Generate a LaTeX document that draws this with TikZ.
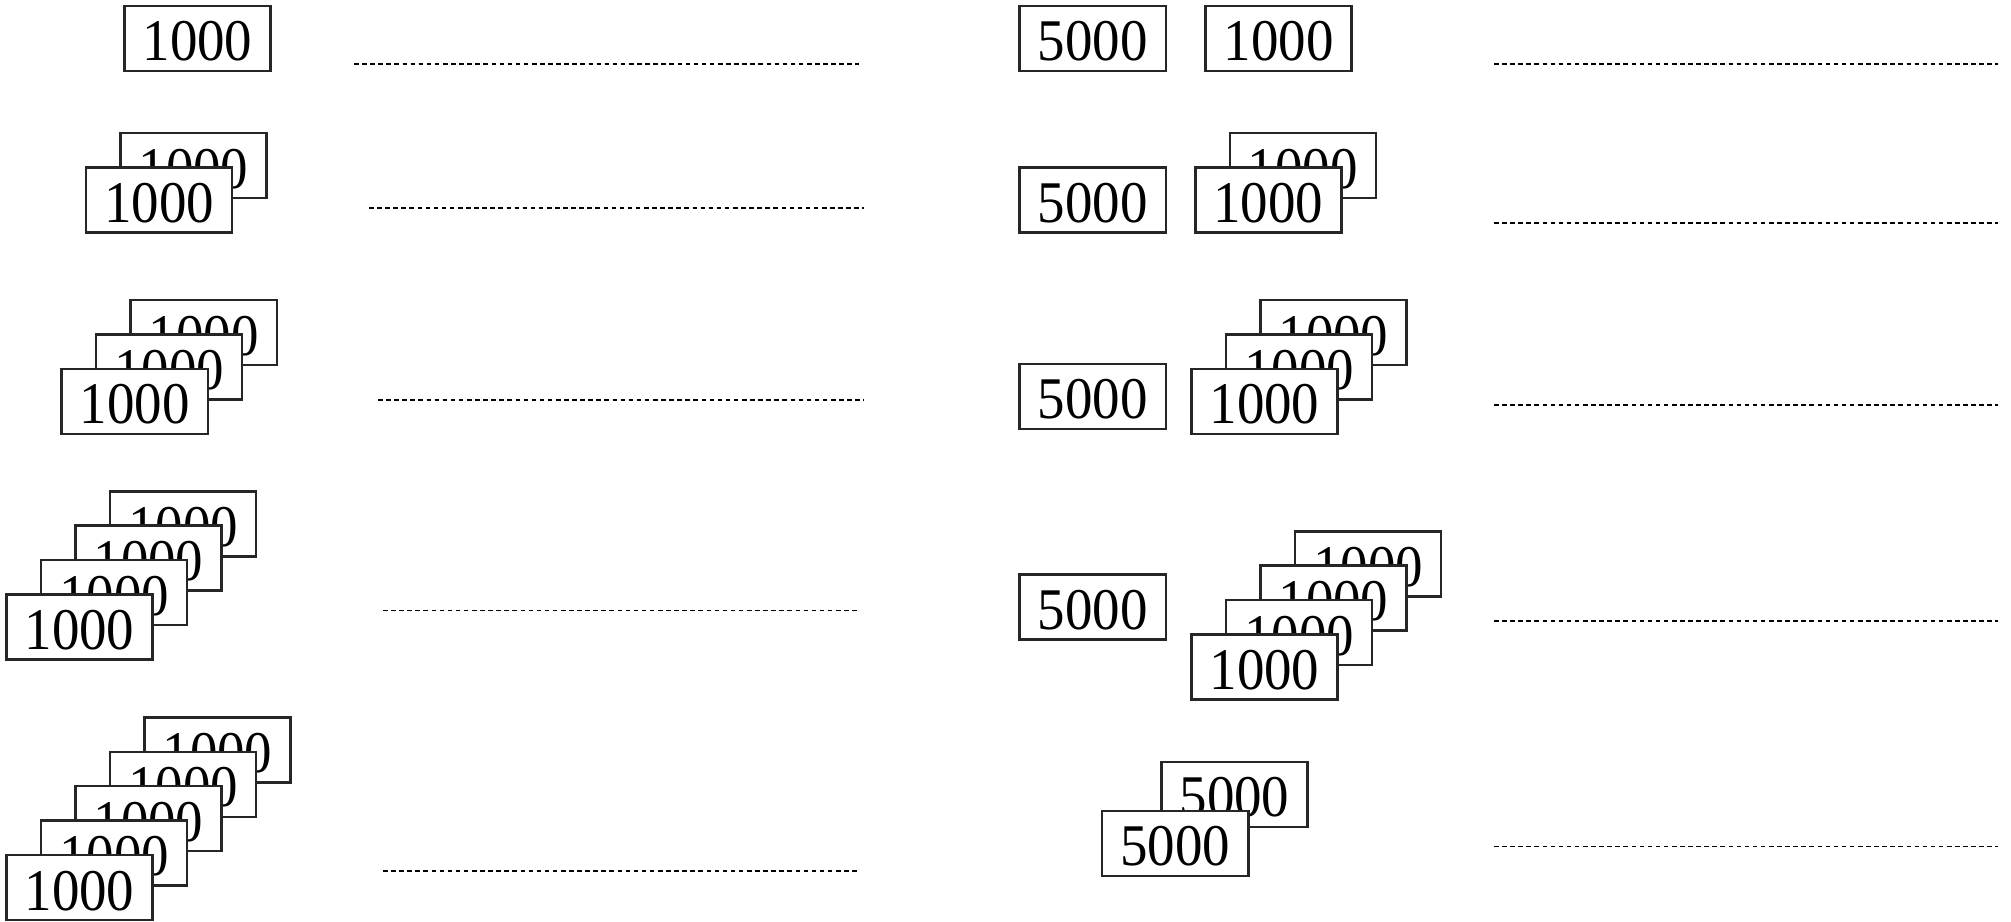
\documentclass[tikz,border=0pt]{standalone}
\usepackage{fontspec}
\setmainfont{Liberation Serif}[FakeStretch=0.93]
\usetikzlibrary{positioning}

\tikzset{
  bill/.style={draw=black!85,line width=0.7pt,fill=white,inner sep=0pt,
    minimum width=1.46cm,minimum height=0.65cm,text height=12.8pt,text depth=0pt,
    font=\fontsize{16.8}{18}\selectfont},
  blank/.style={black,line width=0.5pt,dash pattern=on 1.3pt off 1pt}
}

% a pile of notes: name, count, value, front x, front y (the back ones go up-right)
\newcommand{\notepile}[5]{%
  \foreach \k in {#2,...,1}{
    \node[bill] (#1-\k) at ({#4+(\k-1)*34.5},{#5-(\k-1)*34.4}) {#3};}}

\begin{document}
\begin{tikzpicture}[x=0.01cm,y=-0.01cm]
% 1 unit = 1 pixel of the 2011 x 922 sheet, counted from the top left
\useasboundingbox (0,0) rectangle (2011,922);

% left column: one to five notes of 1000
\notepile{la}{1}{1000}{197.5}{38.5}
\notepile{lb}{2}{1000}{159}{200}
\notepile{lc}{3}{1000}{134.7}{401.4}
\notepile{ld}{4}{1000}{79.5}{627}
\notepile{le}{5}{1000}{79.5}{887.5}

\foreach \a/\b/\y in {354/859/64, 369/864/208, 378/864/400,
                      383/859/610.5, 383/859/871}{
  \draw[blank] (\a,\y) -- (\b,\y);}

% right column: a 5000 with one to four notes of 1000
\foreach \n/\y in {a/38.5,b/200,c/396.3,d/607}{
  \node[bill] (five-\n) at (1092.7,\y) {5000};}
\notepile{ra}{1}{1000}{1278.6}{38.5}
\notepile{rb}{2}{1000}{1268.4}{200}
\notepile{rc}{3}{1000}{1264.5}{401.4}
\notepile{rd}{4}{1000}{1264.5}{667}

% two notes of 5000
\node[bill] (fivee-2) at (1234.5,794.3) {5000};
\node[bill] (fivee-1) at (1175.3,843.3) {5000};

\foreach \y in {64,223,405,620.7,846.5}{
  \draw[blank] (1494,\y) -- (1998,\y);}
\end{tikzpicture}
\end{document}
